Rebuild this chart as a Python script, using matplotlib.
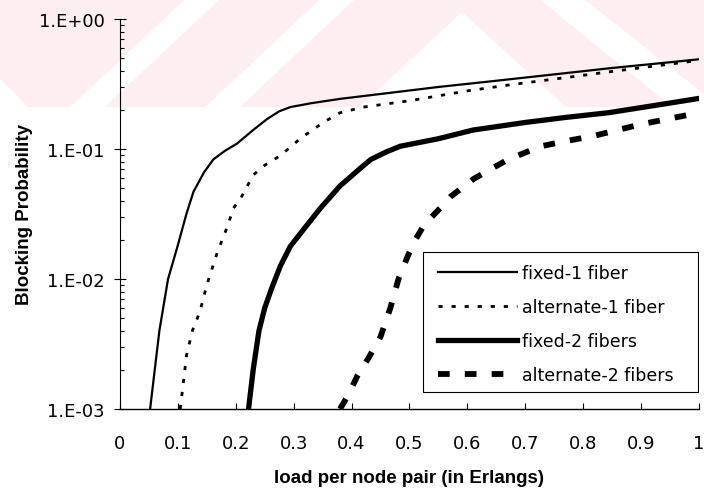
import matplotlib
matplotlib.use('Agg')
import matplotlib.pyplot as plt
from matplotlib.patches import Polygon, Rectangle
from matplotlib.ticker import LogLocator, FixedLocator

# load per node pair (Erlangs) and blocking probability
x_fixed1 = [0.052, 0.068, 0.083, 0.099, 0.115, 0.127, 0.145, 0.161, 0.18, 0.202,
            0.23, 0.254, 0.275, 0.294, 0.33, 0.38, 0.45, 0.55, 0.65, 0.75, 0.85, 0.95, 1.0]
p_fixed1 = [1.0e-3, 4.0e-3, 1.0e-2, 1.76e-2, 3.2e-2, 4.7e-2, 6.6e-2, 8.3e-2, 9.6e-2, 0.11,
            0.14, 0.17, 0.195, 0.21, 0.225, 0.243, 0.265, 0.3, 0.335, 0.375, 0.42, 0.465, 0.49]

x_alt1 = [0.104, 0.115, 0.125, 0.138, 0.15, 0.168, 0.185, 0.196, 0.21, 0.23, 0.25,
          0.277, 0.311, 0.351, 0.38, 0.42, 0.5, 0.6, 0.67, 0.75, 0.85, 0.95, 1.0]
p_alt1 = [1.0e-3, 2.6e-3, 4.0e-3, 5.6e-3, 9.0e-3, 1.6e-2, 2.5e-2, 3.5e-2, 4.3e-2, 6.3e-2, 7.5e-2,
          8.9e-2, 0.12, 0.16, 0.19, 0.21, 0.235, 0.28, 0.31, 0.345, 0.395, 0.45, 0.48]

x_fixed2 = [0.222, 0.23, 0.24, 0.25, 0.262, 0.277, 0.294, 0.32, 0.346, 0.38, 0.415,
            0.433, 0.46, 0.484, 0.55, 0.61, 0.7, 0.77, 0.843, 0.92, 1.0]
p_fixed2 = [1.0e-3, 2.0e-3, 4.0e-3, 6.0e-3, 8.5e-3, 1.26e-2, 1.78e-2, 2.5e-2, 3.5e-2, 5.2e-2, 7.1e-2,
            8.3e-2, 9.5e-2, 0.105, 0.12, 0.14, 0.16, 0.175, 0.19, 0.215, 0.245]

x_alt2 = [0.38, 0.395, 0.41, 0.43, 0.45, 0.467, 0.481, 0.497, 0.51, 0.525, 0.55, 0.571,
          0.611, 0.67, 0.727, 0.77, 0.818, 0.9, 1.0]
p_alt2 = [1.0e-3, 1.3e-3, 1.8e-3, 2.5e-3, 3.6e-3, 6.0e-3, 1.0e-2, 1.5e-2, 2.0e-2, 2.6e-2, 3.4e-2, 4.3e-2,
          5.9e-2, 8.3e-2, 0.105, 0.115, 0.126, 0.155, 0.19]

labels = ['fixed-1 fiber', 'alternate-1 fiber', 'fixed-2 fibers', 'alternate-2 fibers']
xticks = [0, 0.1, 0.2, 0.3, 0.4, 0.5, 0.6, 0.7, 0.8, 0.9, 1]
xticklabels = ['0', '0.1', '0.2', '0.3', '0.4', '0.5', '0.6', '0.7', '0.8', '0.9', '1']
yticks = [1e-3, 1e-2, 1e-1, 1e0]
yticklabels = ['1.E-03', '1.E-02', '1.E-01', '1.E+00']

plt.rcParams['font.family'] = ['DejaVu Sans']

W, H = 704, 489
fig = plt.figure(figsize=(W / 100, H / 100), dpi=100)


def px(pts):
    return [(a / W, 1 - b / H) for a, b in pts]


def wm_poly(pts, color):
    fig.patches.append(Polygon(px(pts), closed=True, transform=fig.transFigure,
                               fc=color, ec='none', zorder=-5))


# faint pink watermark band at the top of the scan
wm_poly([(0, 0), (704, 0), (704, 108), (0, 108)], '#fdeef1')
wm_poly([(0, 80), (28, 108), (0, 108)], 'white')
wm_poly([(70, 108), (105, 108), (220, 0), (185, 0)], 'white')
wm_poly([(205, 108), (240, 108), (355, 0), (320, 0)], 'white')
wm_poly([(359, 108), (462, 13), (566, 108)], 'white')
wm_poly([(539, 0), (584, 0), (704, 95), (704, 108), (672, 108)], 'white')

ax = fig.add_axes([120 / W, 1 - 410 / H, 579 / W, 390 / H])
ax.patch.set_alpha(0)

ax.plot(x_fixed1, p_fixed1, color='black', lw=1.6, ls='-', label=labels[0])
ax.plot(x_alt1, p_alt1, color='black', lw=2.0, ls=(0, (1.5, 3.2)), label=labels[1])
ax.plot(x_fixed2, p_fixed2, color='black', lw=3.8, ls='-', label=labels[2])
ax.plot(x_alt2, p_alt2, color='black', lw=4.2, ls=(0, (2.0, 2.6)), label=labels[3])

ax.set_yscale('log')
ax.set_xlim(0, 1)
ax.set_ylim(1e-3, 1)

ax.spines['top'].set_visible(False)
ax.spines['right'].set_visible(False)
ax.spines['left'].set_linewidth(0.8)
ax.spines['bottom'].set_linewidth(1.0)

ax.xaxis.set_major_locator(FixedLocator(xticks))
ax.set_xticklabels(xticklabels)
ax.yaxis.set_major_locator(FixedLocator(yticks))
ax.set_yticklabels(yticklabels)
ax.yaxis.set_minor_locator(LogLocator(base=10, subs=range(2, 10)))
ax.yaxis.set_minor_formatter(plt.NullFormatter())

ax.tick_params(axis='x', direction='in', length=4, width=0.8, pad=18, labelsize=13)
ax.tick_params(axis='y', which='major', direction='inout', length=8, width=0.8, pad=7, labelsize=13)
ax.tick_params(axis='y', which='minor', direction='in', length=3, width=0.8)

ax.set_xlabel('load per node pair (in Erlangs)', fontsize=13.5, fontweight='bold',
              family='Liberation Sans', labelpad=12)
ax.set_ylabel('Blocking Probability', fontsize=13.5, fontweight='bold',
              family='Liberation Sans', labelpad=4)

# legend box with extra room on the right, as in the scan
ax.add_patch(Rectangle((423 / W, 1 - 393 / H), 275 / W, 140 / H, transform=fig.transFigure,
                       fc='white', ec='black', lw=0.8, zorder=4))
leg = ax.legend(loc='upper left', bbox_to_anchor=(438 / W, 1 - 265 / H),
                bbox_transform=fig.transFigure, fontsize=12.5, frameon=False,
                handlelength=4.55, handletextpad=0.3, labelspacing=0.92,
                borderpad=0.0, borderaxespad=0.0)
leg.set_zorder(5)

fig.savefig('out.png', dpi=100)
